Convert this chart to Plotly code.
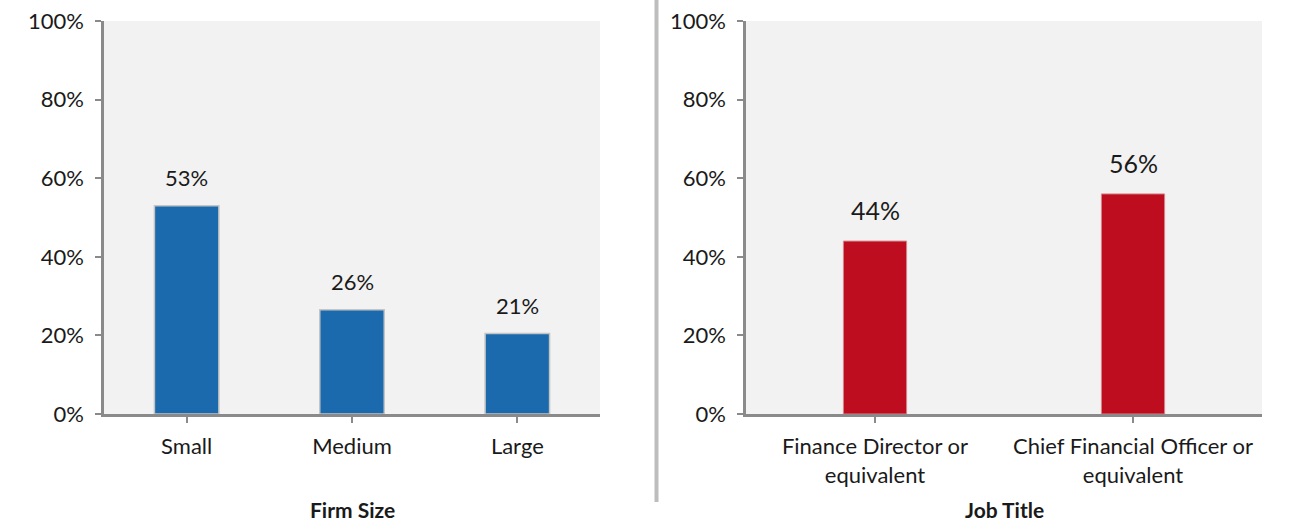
import plotly.graph_objects as go

# Data
firm_sizes = ["Small", "Medium", "Large"]
firm_values = [0.53, 0.265, 0.205]
firm_labels = ["53%", "26%", "21%"]

job_titles = ["Finance Director or<br>equivalent", "Chief Financial Officer or<br>equivalent"]
job_values = [0.44, 0.56]
job_labels = ["44%", "56%"]

y_ticks = [0, 0.2, 0.4, 0.6, 0.8, 1.0]

W, H = 1297, 524
FONT = "Lato"
AXC = "#8a8a8a"
TXT = "#1a1a1a"

def px_x(p):
    return p / W

def px_y(p):
    return 1 - p / H

fig = go.Figure()
fig.add_trace(go.Bar(x=firm_sizes, y=firm_values, width=0.39,
                     marker=dict(color="#1a6aad", line=dict(color="#c4c4c4", width=1.5)),
                     xaxis="x", yaxis="y", hoverinfo="skip"))
fig.add_trace(go.Bar(x=job_titles, y=job_values, width=0.245,
                     marker=dict(color="#be0d1f", line=dict(color="#d7848c", width=1)),
                     xaxis="x2", yaxis="y2", hoverinfo="skip"))

ydom = [px_y(414), px_y(21)]
yax = dict(range=[0, 1], tickvals=y_ticks, tickformat=".0%", showgrid=False,
           zeroline=False, showline=True, linecolor=AXC, linewidth=2.5,
           ticks="outside", ticklen=6, tickcolor=AXC, tickwidth=2,
           tickfont=dict(family=FONT, size=22, color=TXT), ticklabelstandoff=7,
           domain=ydom, fixedrange=True, automargin=False)
xax = dict(showgrid=False, zeroline=False, showline=True, linecolor=AXC, linewidth=2.5,
           ticks="outside", ticklen=6, tickcolor=AXC, tickwidth=2,
           tickfont=dict(family=FONT, size=22, color=TXT), ticklabelstandoff=5,
           fixedrange=True, automargin=False)

fig.update_layout(
    width=W, height=H, margin=dict(l=0, r=0, t=0, b=0, autoexpand=False),
    paper_bgcolor="white", plot_bgcolor="#f2f2f2", showlegend=False,
    font=dict(family=FONT, color=TXT),
    xaxis=dict(**xax, domain=[px_x(104), px_x(600)], anchor="y"),
    yaxis=dict(**yax, anchor="x"),
    xaxis2=dict(**xax, domain=[px_x(746), px_x(1262)], anchor="y2"),
    yaxis2=dict(**yax, anchor="x2"),
)

annotations = []
for c, v, t in zip(firm_sizes, firm_values, firm_labels):
    annotations.append(dict(x=c, y=v, xref="x", yref="y", text=t, showarrow=False,
                            yanchor="middle", yshift=28,
                            font=dict(family=FONT, size=22, color=TXT)))
for c, v, t in zip(job_titles, job_values, job_labels):
    annotations.append(dict(x=c, y=v, xref="x2", yref="y2", text=t, showarrow=False,
                            yanchor="middle", yshift=31,
                            font=dict(family=FONT, size=25, color=TXT)))
annotations.append(dict(x=0.5, xref="x domain", y=px_y(509), yref="paper",
                        text="<b>Firm Size</b>", showarrow=False, yanchor="middle",
                        font=dict(family=FONT, size=21, color=TXT)))
annotations.append(dict(x=0.5, xref="x2 domain", y=px_y(509), yref="paper",
                        text="<b>Job Title</b>", showarrow=False, yanchor="middle",
                        font=dict(family=FONT, size=21, color=TXT)))
fig.update_layout(annotations=annotations)

shapes = [
    dict(type="line", xref="paper", yref="paper", x0=px_x(656.5), x1=px_x(656.5),
         y0=px_y(502), y1=1, line=dict(color="#bdbdbd", width=4)),
    dict(type="line", xref="x domain", yref="y", x0=1, x1=1, y0=0, y1=-6,
         ysizemode="pixel", yanchor=0, line=dict(color=AXC, width=2)),
    dict(type="line", xref="x2 domain", yref="y2", x0=1, x1=1, y0=0, y1=-6,
         ysizemode="pixel", yanchor=0, line=dict(color=AXC, width=2)),
]
fig.update_layout(shapes=shapes)

fig.write_html("out.html")
